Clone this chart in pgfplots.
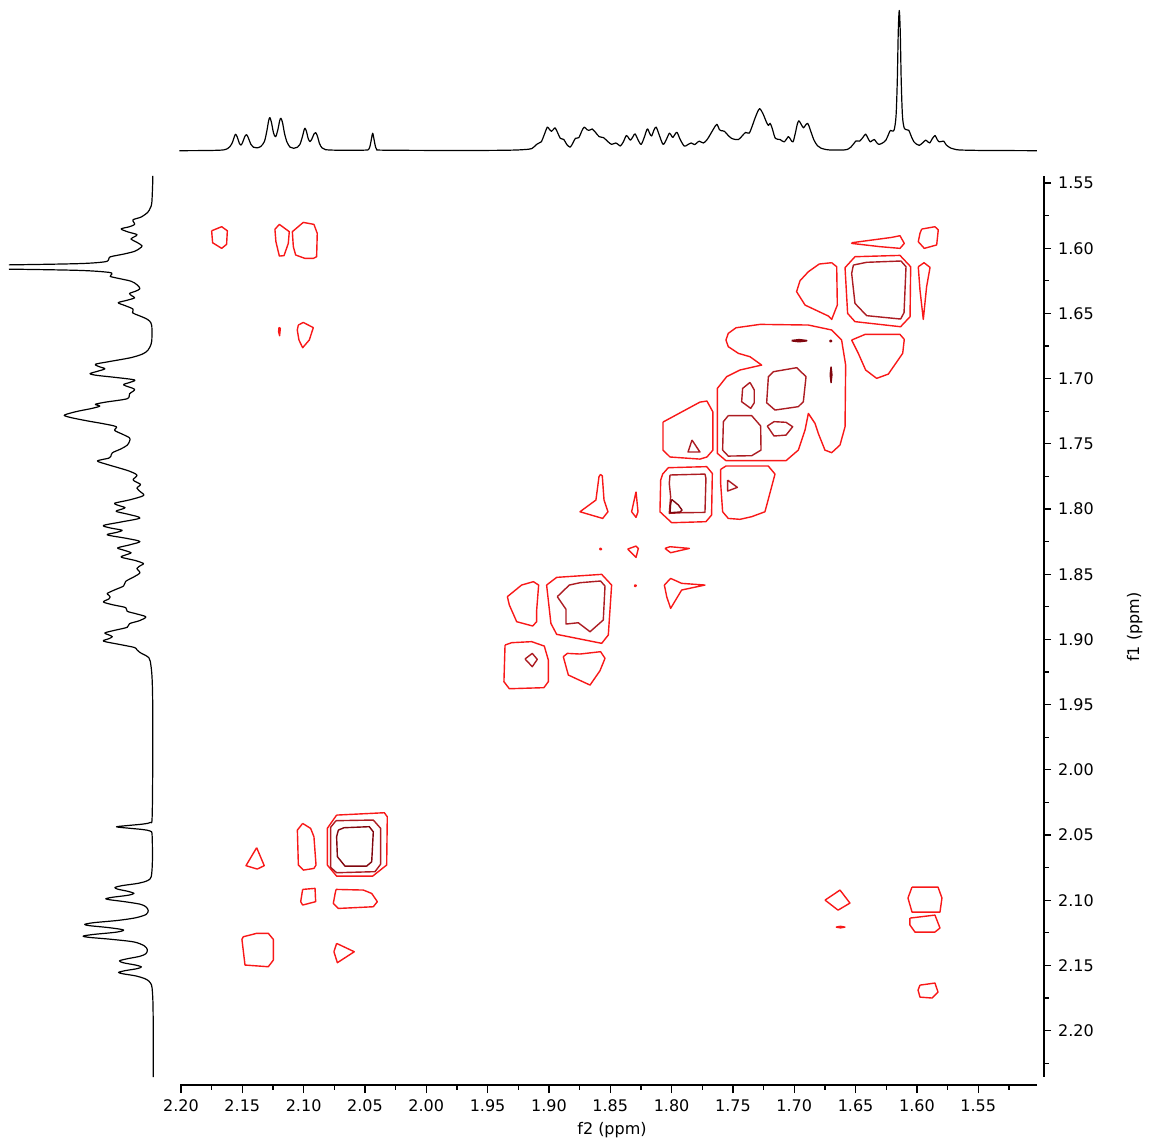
\documentclass[border=0pt]{standalone}
\usepackage{pgfplots}
\pgfplotsset{compat=1.18}
\usepackage{pgfplotstable}
\usepackage{fontspec}
\setmainfont{DejaVu Sans}

\definecolor{cA}{RGB}{248,24,24}
\definecolor{cB}{RGB}{172,28,34}
\definecolor{cC}{RGB}{128,6,14}

% 1D proton projection: chemical shift (ppm) and relative intensity
\pgfplotstableread{
ppm int
2.2400 0.000
2.2356 0.000
2.2200 0.000
2.2014 0.000
2.1800 0.001
2.1700 0.003
2.1650 0.006
2.1620 0.015
2.1600 0.030
2.1580 0.060
2.1565 0.100
2.1554 0.117
2.1540 0.095
2.1525 0.055
2.1511 0.040
2.1497 0.060
2.1480 0.100
2.1465 0.114
2.1450 0.090
2.1430 0.045
2.1410 0.025
2.1380 0.020
2.1350 0.030
2.1320 0.065
2.1300 0.140
2.1285 0.215
2.1275 0.236
2.1262 0.200
2.1245 0.125
2.1228 0.100
2.1210 0.150
2.1195 0.215
2.1185 0.231
2.1172 0.200
2.1155 0.120
2.1135 0.060
2.1110 0.025
2.1080 0.017
2.1050 0.025
2.1030 0.045
2.1010 0.100
2.0997 0.145
2.0989 0.160
2.0978 0.140
2.0962 0.085
2.0948 0.065
2.0932 0.085
2.0915 0.120
2.0902 0.129
2.0888 0.105
2.0870 0.050
2.0850 0.020
2.0820 0.007
2.0700 0.003
2.0500 0.004
2.0470 0.010
2.0458 0.035
2.0447 0.085
2.0437 0.124
2.0427 0.085
2.0416 0.035
2.0404 0.010
2.0370 0.004
2.0000 0.002
1.9500 0.002
1.9300 0.004
1.9200 0.008
1.9140 0.015
1.9100 0.045
1.9080 0.055
1.9062 0.063
1.9040 0.110
1.9013 0.168
1.8995 0.150
1.8979 0.138
1.8965 0.150
1.8950 0.163
1.8930 0.130
1.8907 0.088
1.8879 0.080
1.8855 0.045
1.8827 0.025
1.8805 0.055
1.8784 0.088
1.8756 0.093
1.8735 0.135
1.8713 0.168
1.8690 0.150
1.8675 0.145
1.8660 0.150
1.8647 0.155
1.8620 0.130
1.8590 0.100
1.8555 0.093
1.8520 0.065
1.8489 0.045
1.8455 0.055
1.8430 0.040
1.8418 0.033
1.8395 0.060
1.8369 0.108
1.8350 0.090
1.8335 0.075
1.8315 0.100
1.8298 0.120
1.8275 0.080
1.8249 0.045
1.8225 0.090
1.8198 0.155
1.8180 0.125
1.8163 0.105
1.8145 0.145
1.8126 0.168
1.8100 0.110
1.8069 0.045
1.8040 0.085
1.8018 0.125
1.8000 0.105
1.7989 0.095
1.7970 0.120
1.7955 0.130
1.7930 0.080
1.7897 0.033
1.7870 0.042
1.7840 0.055
1.7812 0.043
1.7790 0.060
1.7774 0.068
1.7740 0.055
1.7710 0.080
1.7683 0.118
1.7655 0.160
1.7631 0.188
1.7610 0.150
1.7597 0.143
1.7569 0.138
1.7540 0.110
1.7511 0.088
1.7480 0.080
1.7454 0.080
1.7425 0.105
1.7397 0.130
1.7368 0.125
1.7345 0.170
1.7325 0.220
1.7300 0.275
1.7282 0.300
1.7265 0.280
1.7248 0.250
1.7230 0.210
1.7211 0.180
1.7197 0.195
1.7180 0.160
1.7154 0.088
1.7116 0.080
1.7082 0.063
1.7048 0.100
1.7030 0.080
1.7010 0.063
1.6990 0.130
1.6975 0.190
1.6962 0.213
1.6945 0.190
1.6925 0.163
1.6910 0.180
1.6890 0.195
1.6870 0.150
1.6839 0.075
1.6810 0.035
1.6782 0.018
1.6740 0.008
1.6710 0.005
1.6596 0.005
1.6560 0.012
1.6539 0.025
1.6515 0.050
1.6495 0.070
1.6467 0.068
1.6440 0.095
1.6418 0.118
1.6400 0.090
1.6381 0.063
1.6365 0.072
1.6347 0.080
1.6330 0.060
1.6310 0.045
1.6280 0.055
1.6253 0.075
1.6230 0.120
1.6216 0.145
1.6200 0.140
1.6185 0.150
1.6170 0.250
1.6160 0.500
1.6152 0.850
1.6144 1.000
1.6136 0.850
1.6128 0.500
1.6118 0.250
1.6104 0.163
1.6085 0.150
1.6066 0.145
1.6045 0.100
1.6024 0.063
1.6000 0.045
1.5981 0.038
1.5955 0.055
1.5929 0.075
1.5910 0.062
1.5895 0.055
1.5875 0.085
1.5852 0.108
1.5835 0.080
1.5818 0.063
1.5800 0.066
1.5781 0.068
1.5760 0.040
1.5723 0.018
1.5690 0.010
1.5652 0.005
1.5500 0.002
1.5446 0.002
1.5300 0.001
1.5022 0.000
}\protonproj

\pgfplotsset{
  ctr/.style={line width=0.7pt, line join=round, mark=none},
  tlab/.style={font=\fontsize{8pt}{9.6pt}\selectfont},
  proj/.style={black, line width=0.6pt, smooth, tension=0.5, mark=none, line join=round},
}

\begin{document}
\begin{tikzpicture}
\useasboundingbox (0,0) rectangle (574.5pt,572pt);

% ---- top projection (f2) ----
\begin{axis}[
  at={(90pt,492pt)}, anchor=south west,
  scale only axis, width=428.5pt, height=80pt,
  xmin=1.5021, xmax=2.2008, x dir=reverse,
  ymin=-0.0663, ymax=1.0749,
  hide axis, clip=false,
]
\addplot[proj, restrict x to domain=1.5020:2.2015] table[x=ppm, y=int] {\protonproj};
\end{axis}

% ---- left projection (f1) ----
\begin{axis}[
  at={(4.5pt,29.5pt)}, anchor=south west,
  scale only axis, width=75.5pt, height=454.5pt,
  xmin=-0.0226, xmax=0.4859, x dir=reverse,
  ymin=1.5446, ymax=2.2417, y dir=reverse,
  hide axis,
]
\addplot[proj, restrict y to domain=1.5440:2.2360] table[x=int, y=ppm] {\protonproj};
\end{axis}

% ---- f2 axis (bottom) ----
\begin{axis}[
  at={(90pt,29.5pt)}, anchor=south west,
  scale only axis, width=428.5pt, height=20pt,
  xmin=1.5021, xmax=2.2008, x dir=reverse,
  ymin=0, ymax=1,
  axis x line=bottom, axis y line=none,
  axis line style={-, black, line width=0.6pt},
  tick align=outside,
  major tick length=4pt, minor tick length=2.25pt,
  tick style={black, line width=0.6pt},
  xtick={1.55,1.60,1.65,1.70,1.75,1.80,1.85,1.90,1.95,2.00,2.05,2.10,2.15,2.20},
  minor xtick={1.525,1.575,1.625,1.675,1.725,1.775,1.825,1.875,1.925,1.975,2.025,2.075,2.125,2.175},
  xticklabel style={tlab, /pgf/number format/.cd, fixed, fixed zerofill, precision=2, assume math mode=true},
]
\end{axis}

% ---- f1 axis (right) ----
\begin{axis}[
  at={(522pt,33.5pt)}, anchor=south east,
  scale only axis, width=20pt, height=450.5pt,
  xmin=0, xmax=1,
  ymin=1.5446, ymax=2.2356, y dir=reverse,
  axis y line=right, axis x line=none,
  axis line style={-, black, line width=0.6pt},
  tick align=outside,
  major tick length=3.5pt, minor tick length=2.25pt,
  tick style={black, line width=0.6pt},
  ytick={1.55,1.60,1.65,1.70,1.75,1.80,1.85,1.90,1.95,2.00,2.05,2.10,2.15,2.20},
  minor ytick={1.575,1.625,1.675,1.725,1.775,1.825,1.875,1.925,1.975,2.025,2.075,2.125,2.175,2.225},
  yticklabel style={tlab, /pgf/number format/.cd, fixed, fixed zerofill, precision=2, assume math mode=true},
]
\end{axis}

\node[anchor=base, font=\fontsize{8pt}{9.6pt}\selectfont] at (306pt,5pt) {f2 (ppm)};
\node[anchor=base, rotate=90, font=\fontsize{8pt}{9.6pt}\selectfont] at (569.5pt,258.5pt) {f1 (ppm)};

% ---- COSY contour map ----
\begin{axis}[
  at={(90pt,29.5pt)}, anchor=south west,
  scale only axis, width=428.5pt, height=454.5pt,
  xmin=1.5021, xmax=2.2008, x dir=reverse,
  ymin=1.5446, ymax=2.2417, y dir=reverse,
  hide axis,
]
% cross peaks near 1.59 ppm (f1)
\addplot[ctr, cA] coordinates {(2.1750,1.5866) (2.1668,1.5835) (2.1622,1.5866) (2.1628,1.5970) (2.1668,1.6001) (2.1742,1.5958) (2.1750,1.5866)};
\addplot[ctr, cA] coordinates {(2.1234,1.5855) (2.1198,1.5817) (2.1117,1.5873) (2.1125,1.5963) (2.1160,1.6057) (2.1198,1.6060) (2.1226,1.5950) (2.1234,1.5855)};
\addplot[ctr, cA] coordinates {(2.1092,1.5873) (2.1003,1.5802) (2.0916,1.5817) (2.0889,1.5886) (2.0894,1.6065) (2.0921,1.6078) (2.0989,1.6078) (2.1065,1.6052) (2.1084,1.5988) (2.1092,1.5873)};
\addplot[ctr, cA] coordinates {(2.1201,1.6607) (2.1190,1.6615) (2.1196,1.6671) (2.1204,1.6640) (2.1201,1.6607)};
\addplot[ctr, cA] coordinates {(2.1043,1.6589) (2.1003,1.6569) (2.0921,1.6609) (2.0954,1.6704) (2.1008,1.6763) (2.1038,1.6704) (2.1052,1.6627) (2.1043,1.6589)};
\addplot[ctr, cA] coordinates {(1.6532,1.5958) (1.6206,1.5917) (1.6138,1.5904) (1.6103,1.5963) (1.6138,1.6001) (1.6301,1.5988) (1.6532,1.5963) (1.6532,1.5958)};
\addplot[ctr, cA] coordinates {(1.5961,1.5853) (1.5853,1.5835) (1.5826,1.5860) (1.5839,1.5975) (1.5940,1.6001) (1.5989,1.5950) (1.5975,1.5886) (1.5961,1.5853)};
\addplot[ctr, cA] coordinates {(1.5989,1.6142) (1.5942,1.6111) (1.5893,1.6147) (1.5921,1.6295) (1.5948,1.6546) (1.5975,1.6321) (1.5989,1.6142)};
\addplot[ctr, cA] coordinates {(1.6695,1.6111) (1.6654,1.6142) (1.6649,1.6436) (1.6695,1.6546) (1.6722,1.6520) (1.6912,1.6436) (1.6981,1.6333) (1.6953,1.6249) (1.6885,1.6180) (1.6796,1.6121) (1.6695,1.6111)};
% diagonal 1.63
\addplot[ctr, cA] coordinates {(1.6505,1.6065) (1.6138,1.6055) (1.6051,1.6142) (1.6056,1.6525) (1.6133,1.6602) (1.6505,1.6563) (1.6565,1.6500) (1.6586,1.6149) (1.6505,1.6065)};
\addplot[ctr, cB] coordinates {(1.6518,1.6129) (1.6410,1.6108) (1.6130,1.6098) (1.6089,1.6142) (1.6105,1.6494) (1.6133,1.6543) (1.6410,1.6517) (1.6505,1.6423) (1.6532,1.6193) (1.6518,1.6129)};
\addplot[ctr, cA] coordinates {(1.6532,1.6704) (1.6423,1.6661) (1.6138,1.6661) (1.6103,1.6699) (1.6116,1.6806) (1.6233,1.6965) (1.6328,1.6998) (1.6418,1.6934) (1.6478,1.6806) (1.6532,1.6704)};
% region 1.66-1.76
\addplot[ctr, cA] coordinates {(1.7475,1.6610) (1.7279,1.6584) (1.6885,1.6589) (1.6695,1.6627) (1.6614,1.6704) (1.6581,1.6896) (1.6586,1.7369) (1.6627,1.7509) (1.6695,1.7568) (1.6750,1.7548) (1.6804,1.7420) (1.6831,1.7343) (1.6885,1.7267) (1.6912,1.7394) (1.6967,1.7548) (1.7067,1.7629) (1.7557,1.7629) (1.7627,1.7573) (1.7627,1.7075) (1.7551,1.6985) (1.7443,1.6934) (1.7266,1.6896) (1.7361,1.6832) (1.7456,1.6806) (1.7538,1.6755) (1.7557,1.6704) (1.7538,1.6653) (1.7475,1.6610)};
\addplot[ctr, cB] coordinates {(1.7361,1.7029) (1.7326,1.7087) (1.7326,1.7185) (1.7355,1.7228) (1.7429,1.7177) (1.7421,1.7075) (1.7361,1.7029)};
\addplot[ctr, cB] coordinates {(1.7171,1.6947) (1.6980,1.6916) (1.6904,1.6985) (1.6926,1.7177) (1.6967,1.7215) (1.7157,1.7241) (1.7225,1.7185) (1.7211,1.6985) (1.7171,1.6947)};
\addplot[ctr, cB] coordinates {(1.7538,1.7284) (1.7347,1.7284) (1.7274,1.7363) (1.7271,1.7548) (1.7347,1.7591) (1.7538,1.7594) (1.7584,1.7548) (1.7578,1.7330) (1.7538,1.7284)};
\addplot[ctr, cB] coordinates {(1.7220,1.7364) (1.7165,1.7330) (1.7067,1.7335) (1.7013,1.7369) (1.7067,1.7433) (1.7165,1.7440) (1.7220,1.7364)};
\addplot[ctr, cC, line width=0.9pt] coordinates {(1.7021,1.6709) (1.6960,1.6702) (1.6899,1.6709) (1.6960,1.6716) (1.7021,1.6709)};
\addplot[ctr, cC] coordinates {(1.6711,1.6712) (1.6703,1.6705) (1.6695,1.6712) (1.6703,1.6719) (1.6711,1.6712)};
\addplot[ctr, cC] coordinates {(1.6700,1.6908) (1.6693,1.6970) (1.6700,1.7031) (1.6707,1.6970) (1.6700,1.6908)};
\addplot[ctr, cA] coordinates {(1.8070,1.7333) (1.7769,1.7180) (1.7712,1.7172) (1.7663,1.7256) (1.7663,1.7548) (1.7712,1.7601) (1.7769,1.7617) (1.8013,1.7601) (1.8070,1.7548) (1.8070,1.7333)};
\addplot[ctr, cB] coordinates {(1.7834,1.7471) (1.7769,1.7563) (1.7866,1.7563) (1.7834,1.7471)};
% diagonal 1.79
\addplot[ctr, cA] coordinates {(1.8073,1.7732) (1.8027,1.7683) (1.7714,1.7675) (1.7668,1.7727) (1.7674,1.8046) (1.7720,1.8097) (1.7999,1.8105) (1.8095,1.8021) (1.8089,1.7778) (1.8073,1.7732)};
\addplot[ctr, cB] coordinates {(1.8013,1.7739) (1.7728,1.7732) (1.7720,1.7765) (1.7728,1.8026) (1.7910,1.8028) (1.8019,1.8033) (1.8008,1.7905) (1.8019,1.7803) (1.8013,1.7739)};
\addplot[ctr, cC] coordinates {(1.8000,1.7926) (1.7945,1.7969) (1.7915,1.8008) (1.7932,1.8023) (1.8013,1.8028) (1.8008,1.7962) (1.8000,1.7926)};
\addplot[ctr, cA] coordinates {(1.7600,1.7696) (1.7557,1.7670) (1.7212,1.7670) (1.7157,1.7732) (1.7239,1.8021) (1.7348,1.8059) (1.7443,1.8079) (1.7538,1.8072) (1.7584,1.8021) (1.7600,1.7803) (1.7600,1.7696)};
\addplot[ctr, cB] coordinates {(1.7543,1.7778) (1.7464,1.7834) (1.7543,1.7862) (1.7543,1.7778)};
\addplot[ctr, cA] coordinates {(1.8579,1.7734) (1.8565,1.7747) (1.8551,1.7931) (1.8519,1.8021) (1.8562,1.8072) (1.8747,1.8021) (1.8617,1.7931) (1.8592,1.7752) (1.8579,1.7734)};
\addplot[ctr, cA] coordinates {(1.8290,1.7867) (1.8274,1.8021) (1.8290,1.8064) (1.8326,1.8021) (1.8290,1.7867)};
\addplot[ctr, cA] coordinates {(1.8587,1.8307) (1.8579,1.8300) (1.8571,1.8307) (1.8579,1.8314) (1.8587,1.8307)};
\addplot[ctr, cA] coordinates {(1.8358,1.8307) (1.8290,1.8284) (1.8271,1.8302) (1.8290,1.8371) (1.8358,1.8307)};
\addplot[ctr, cA] coordinates {(1.8054,1.8302) (1.8013,1.8289) (1.7855,1.8302) (1.8008,1.8335) (1.8054,1.8302)};
\addplot[ctr, cA] coordinates {(1.8304,1.8588) (1.8296,1.8581) (1.8288,1.8588) (1.8296,1.8595) (1.8304,1.8588)};
\addplot[ctr, cA] coordinates {(1.8059,1.8583) (1.8008,1.8532) (1.7918,1.8570) (1.7728,1.8583) (1.7918,1.8621) (1.8008,1.8762) (1.8040,1.8672) (1.8059,1.8583)};
% region 1.85-1.94
\addplot[ctr, cA] coordinates {(1.9339,1.8672) (1.9223,1.8583) (1.9127,1.8557) (1.9084,1.8583) (1.9100,1.8775) (1.9100,1.8864) (1.9133,1.8897) (1.9263,1.8864) (1.9323,1.8736) (1.9339,1.8672)};
\addplot[ctr, cA] coordinates {(1.9019,1.8583) (1.8937,1.8524) (1.8570,1.8501) (1.8489,1.8583) (1.8516,1.8966) (1.8570,1.9030) (1.8937,1.8961) (1.8984,1.8877) (1.9019,1.8583)};
\addplot[ctr, cB] coordinates {(1.8932,1.8672) (1.8834,1.8583) (1.8747,1.8565) (1.8579,1.8552) (1.8543,1.8591) (1.8557,1.8851) (1.8665,1.8941) (1.8761,1.8872) (1.8861,1.8882) (1.8861,1.8769) (1.8932,1.8672)};
\addplot[ctr, cA] coordinates {(1.9358,1.9043) (1.9304,1.9025) (1.9141,1.9017) (1.9038,1.9051) (1.9005,1.9158) (1.9005,1.9324) (1.9041,1.9370) (1.9323,1.9378) (1.9367,1.9324) (1.9358,1.9043)};
\addplot[ctr, cB] coordinates {(1.9195,1.9150) (1.9136,1.9107) (1.9095,1.9153) (1.9136,1.9209) (1.9195,1.9150)};
\addplot[ctr, cA] coordinates {(1.8883,1.9132) (1.8850,1.9107) (1.8747,1.9112) (1.8579,1.9094) (1.8543,1.9145) (1.8584,1.9240) (1.8665,1.9350) (1.8842,1.9273) (1.8883,1.9132)};
% region 2.03-2.15
\addplot[ctr, cA] coordinates {(2.1383,2.0597) (2.1321,2.0735) (2.1378,2.0761) (2.1470,2.0735) (2.1383,2.0597)};
\addplot[ctr, cA] coordinates {(2.1008,2.0411) (2.0943,2.0449) (2.0916,2.0513) (2.0899,2.0730) (2.0916,2.0756) (2.1002,2.0769) (2.1043,2.0730) (2.1051,2.0462) (2.1008,2.0411)};
\addplot[ctr, cA] coordinates {(2.0731,2.0347) (2.0342,2.0329) (2.0318,2.0360) (2.0323,2.0730) (2.0437,2.0815) (2.0731,2.0815) (2.0807,2.0730) (2.0807,2.0449) (2.0731,2.0347)};
\addplot[ctr, cB] coordinates {(2.0736,2.0390) (2.0432,2.0385) (2.0372,2.0449) (2.0372,2.0723) (2.0418,2.0781) (2.0731,2.0789) (2.0780,2.0748) (2.0780,2.0441) (2.0736,2.0390)};
\addplot[ctr, cC] coordinates {(2.0717,2.0462) (2.0671,2.0444) (2.0465,2.0436) (2.0432,2.0475) (2.0445,2.0705) (2.0486,2.0738) (2.0663,2.0738) (2.0725,2.0666) (2.0731,2.0513) (2.0717,2.0462)};
\addplot[ctr, cA] coordinates {(2.1008,2.0917) (2.0907,2.0909) (2.0902,2.1011) (2.1008,2.1037) (2.1024,2.1011) (2.1008,2.0917)};
\addplot[ctr, cA] coordinates {(2.0736,2.0917) (2.0513,2.0922) (2.0445,2.0948) (2.0399,2.1011) (2.0432,2.1050) (2.0717,2.1063) (2.0758,2.1024) (2.0744,2.0953) (2.0736,2.0917)};
\addplot[ctr, cA] coordinates {(2.1492,2.1280) (2.1383,2.1254) (2.1288,2.1254) (2.1247,2.1300) (2.1247,2.1459) (2.1288,2.1510) (2.1478,2.1497) (2.1503,2.1300) (2.1492,2.1280)};
\addplot[ctr, cA] coordinates {(2.0731,2.1331) (2.0587,2.1395) (2.0725,2.1479) (2.0753,2.1395) (2.0731,2.1331)};
% cross peaks near 1.59 ppm (f2)
\addplot[ctr, cA] coordinates {(1.6749,2.0999) (1.6627,2.0922) (1.6546,2.1022) (1.6643,2.1076) (1.6749,2.0999)};
\addplot[ctr, cA] coordinates {(1.6660,2.1206) (1.6623,2.1200) (1.6587,2.1206) (1.6623,2.1212) (1.6660,2.1206)};
\addplot[ctr, cA] coordinates {(1.6040,2.0899) (1.5828,2.0899) (1.5796,2.0983) (1.5812,2.1091) (1.6040,2.1091) (1.6073,2.0983) (1.6040,2.0899)};
\addplot[ctr, cA] coordinates {(1.6057,2.1137) (1.5853,2.1114) (1.5812,2.1213) (1.5853,2.1244) (1.6016,2.1244) (1.6057,2.1190) (1.6057,2.1137)};
\addplot[ctr, cA] coordinates {(1.5975,2.1651) (1.5853,2.1635) (1.5828,2.1704) (1.5877,2.1750) (1.5975,2.1743) (1.5991,2.1689) (1.5975,2.1651)};
\end{axis}
\end{tikzpicture}
\end{document}
